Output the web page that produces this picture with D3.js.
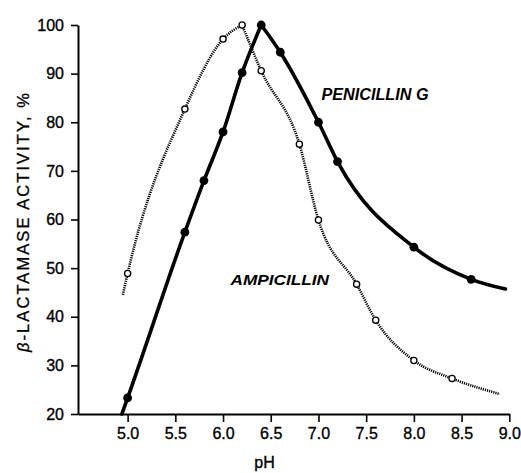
<!DOCTYPE html>
<html>
<head>
<meta charset="utf-8">
<script src="https://cdn.jsdelivr.net/npm/d3@7"></script>
<style>
  html, body { margin: 0; padding: 0; background: #fff; }
  svg { display: block; }
  text { font-family: "Liberation Sans", Arial, Helvetica, sans-serif; fill: #000; }
</style>
</head>
<body>
<svg id="chart" width="521" height="473"></svg>
<script>
// ---- data ----
const xTicks = [5.0, 5.5, 6.0, 6.5, 7.0, 7.5, 8.0, 8.5, 9.0];
const yTicks = [20, 30, 40, 50, 60, 70, 80, 90, 100];

// Penicillin G (filled circles, solid line)
const penLineRisePH  = [4.94, 5.0, 5.6, 5.8, 6.0, 6.2, 6.4];
const penLineRiseVal = [20.0, 23.3, 57.4, 68.0, 78.0, 90.2, 100];
const penLineFallPH  = [6.4, 6.6, 7.0, 7.2, 8.0, 8.6, 8.96];
const penLineFallVal = [100, 94.4, 80.0, 71.9, 54.3, 47.7, 45.7];
const penPointPH  = [5.0, 5.6, 5.8, 6.0, 6.2, 6.4, 6.6, 7.0, 7.2, 8.0, 8.6];
const penPointVal = [23.3, 57.4, 68.0, 78.0, 90.2, 100, 94.4, 80.0, 71.9, 54.3, 47.7];

// Ampicillin (open circles, dotted line)
const ampLineRisePH  = [4.95, 5.0, 5.6, 6.0, 6.2];
const ampLineRiseVal = [44.5, 48.9, 82.7, 97.1, 100];
const ampLineFallPH  = [6.2, 6.4, 6.8, 7.0, 7.4, 7.6, 8.0, 8.4, 8.9];
const ampLineFallVal = [100, 90.6, 75.5, 59.9, 46.7, 39.3, 31.0, 27.3, 24.1];
const ampPointPH  = [5.0, 5.6, 6.0, 6.2, 6.4, 6.8, 7.0, 7.4, 7.6, 8.0, 8.4];
const ampPointVal = [48.9, 82.7, 97.1, 100, 90.6, 75.5, 59.9, 46.7, 39.3, 31.0, 27.3];

const zip = (a, b) => a.map((v, i) => [v, b[i]]);

// ---- scales ----
const svg = d3.select("#chart");
const x = d3.scaleLinear().domain([4.48, 9.0]).range([78, 509.3]);
const y = d3.scaleLinear().domain([20, 100]).range([414, 25]);

// ---- axes ----
const xAxis = d3.axisBottom(x).tickValues(xTicks).tickFormat(d3.format(".1f"))
  .tickSize(8).tickSizeOuter(0).tickPadding(6);
const yAxis = d3.axisLeft(y).tickValues(yTicks).tickFormat(d3.format("d"))
  .tickSize(7).tickSizeOuter(0).tickPadding(7);

const gx = svg.append("g").attr("transform", "translate(0,414)").call(xAxis);
const gy = svg.append("g").attr("transform", "translate(78,0)").call(yAxis);
[gx, gy].forEach(g => {
  g.select(".domain").attr("stroke", "#000").attr("stroke-width", 2);
  g.selectAll(".tick line").attr("stroke", "#000").attr("stroke-width", 1.6);
  g.selectAll(".tick text").attr("font-size", 16).attr("fill", "#000")
    .attr("stroke", "#000").attr("stroke-width", 0.35)
    .attr("font-family", "'Liberation Sans', Arial, sans-serif");
});

// ---- lines ----
const line = d3.line().x(d => x(d[0])).y(d => y(d[1])).curve(d3.curveMonotoneX);

function drawAmp(data) {
  svg.append("path").datum(data).attr("d", line)
    .attr("fill", "none").attr("stroke", "#000").attr("stroke-width", 2.6)
    .attr("stroke-dasharray", "1.2,1");
}
drawAmp(zip(ampLineRisePH, ampLineRiseVal));
drawAmp(zip(ampLineFallPH, ampLineFallVal));

function drawPen(data) {
  svg.append("path").datum(data).attr("d", line)
    .attr("fill", "none").attr("stroke", "#000").attr("stroke-width", 3.6)
    .attr("stroke-linejoin", "round").attr("stroke-linecap", "round");
}
drawPen(zip(penLineRisePH, penLineRiseVal));
drawPen(zip(penLineFallPH, penLineFallVal));

// ---- points ----
svg.append("g").selectAll("circle").data(zip(ampPointPH, ampPointVal)).join("circle")
  .attr("cx", d => x(d[0])).attr("cy", d => y(d[1])).attr("r", 3.1)
  .attr("fill", "#fff").attr("stroke", "#000").attr("stroke-width", 1.3);

svg.append("g").selectAll("circle").data(zip(penPointPH, penPointVal)).join("circle")
  .attr("cx", d => x(d[0])).attr("cy", d => y(d[1])).attr("r", 4.4)
  .attr("fill", "#000");

// ---- labels ----
svg.append("text").attr("x", 321.5).attr("y", 99.5)
  .attr("font-size", 16).attr("font-weight", "bold").attr("font-style", "italic")
  .attr("textLength", 107).attr("lengthAdjust", "spacingAndGlyphs")
  .text("PENICILLIN G");

svg.append("text").attr("x", 230.5).attr("y", 284.5)
  .attr("font-size", 15).attr("font-weight", "bold").attr("font-style", "italic")
  .attr("textLength", 98.5).attr("lengthAdjust", "spacingAndGlyphs")
  .text("AMPICILLIN");

const yl = svg.append("text")
  .attr("transform", "translate(28.5,222.5) rotate(-90)")
  .attr("text-anchor", "middle").attr("font-size", 16.5)
  .attr("stroke", "#000").attr("stroke-width", 0.3)
  .attr("textLength", 259).attr("lengthAdjust", "spacing");
yl.append("tspan").attr("font-style", "italic").text("β");
yl.append("tspan").text("-LACTAMASE ACTIVITY, %");

svg.append("text").attr("x", 264.5).attr("y", 468)
  .attr("text-anchor", "middle").attr("font-size", 16)
  .attr("stroke", "#000").attr("stroke-width", 0.35).text("pH");
</script>
</body>
</html>
